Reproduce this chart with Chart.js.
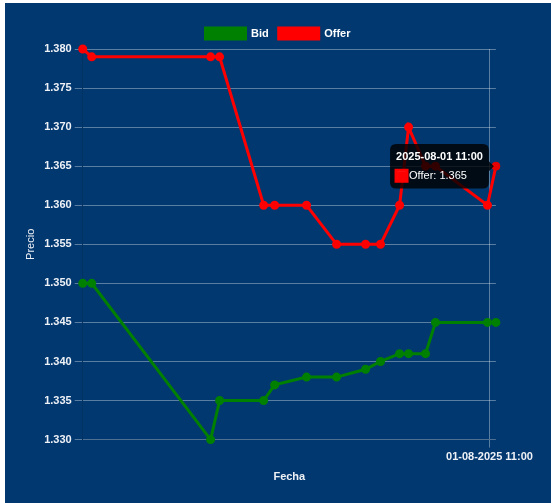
<!DOCTYPE html>
<html>
<head>
<meta charset="utf-8">
<script src="https://cdn.jsdelivr.net/npm/chart.js@4.4.0/dist/chart.umd.min.js"></script>
<style>
  body { margin: 0; background: #fff; }
  .panel {
    position: absolute; left: 5px; top: 3px;
    width: 516px; height: 470px; padding: 15px;
    background: #023870;
  }
  .panel .wrap { position: relative; width: 516px; height: 470px; }
</style>
</head>
<body>
<div class="panel"><div class="wrap"><canvas id="precios"></canvas></div></div>
<script>
// Quotes for 2025-08-01 (times HH:MM:SS)
const horas = ['10:02:00','10:03:17','10:20:14','10:21:31','10:27:48','10:29:22','10:33:55','10:38:12',
               '10:42:20','10:44:28','10:47:11','10:48:28','10:50:53','10:52:18','10:59:43','11:00:55'];
const bid   = [1.350, 1.350, 1.330, 1.335, 1.335, 1.337, 1.338, 1.338,
               1.339, 1.340, 1.341, 1.341, 1.341, 1.345, 1.345, 1.345];
const offer = [1.380, 1.379, 1.379, 1.379, 1.360, 1.360, 1.360, 1.355,
               1.355, 1.355, 1.360, 1.370, 1.365, 1.365, 1.360, 1.365];
const tickHoras = ['11:00'];
const fecha = [2025, 8, 1];

function toMs(h) {
    const p = h.split(':').map(Number);
    return Date.UTC(fecha[0], fecha[1] - 1, fecha[2], p[0], p[1], p[2] || 0);
}
function pad(n) { return String(n).padStart(2, '0'); }
function fmtTick(ms) {
    const d = new Date(ms);
    return pad(d.getUTCDate()) + '-' + pad(d.getUTCMonth() + 1) + '-' + d.getUTCFullYear() + ' ' +
           pad(d.getUTCHours()) + ':' + pad(d.getUTCMinutes());
}
function fmtTitle(ms) {
    const d = new Date(ms);
    return d.getUTCFullYear() + '-' + pad(d.getUTCMonth() + 1) + '-' + pad(d.getUTCDate()) + ' ' +
           pad(d.getUTCHours()) + ':' + pad(d.getUTCMinutes());
}

const xs = horas.map(toMs);
const gridColor = 'rgba(255,255,255,0.35)';
const textColor = '#eef1f6';
const bold = { weight: 'bold' };

Chart.defaults.font.size = 11;

const ctx = document.getElementById('precios').getContext('2d');
const chart = new Chart(ctx, {
    type: 'line',
    data: {
        datasets: [
            { label: 'Bid', data: xs.map((x, i) => ({ x: x, y: bid[i] })),
              borderColor: 'green', backgroundColor: 'green', borderWidth: 3,
              pointRadius: 3, tension: 0, clip: false },
            { label: 'Offer', data: xs.map((x, i) => ({ x: x, y: offer[i] })),
              borderColor: 'red', backgroundColor: 'red', borderWidth: 3,
              pointRadius: 3, tension: 0, clip: false }
        ]
    },
    options: {
        responsive: true,
        maintainAspectRatio: false,
        animation: false,
        plugins: {
            legend: {
                labels: { color: '#fff', font: bold }
            },
            tooltip: {
                callbacks: { title: items => fmtTitle(items[0].parsed.x) }
            }
        },
        scales: {
            x: {
                type: 'linear',
                min: xs[0],
                max: xs[xs.length - 1],
                afterBuildTicks: axis => { axis.ticks = tickHoras.map(h => ({ value: toMs(h) })); },
                ticks: { color: textColor, font: bold, callback: v => fmtTick(v), maxRotation: 0 },
                grid: { color: gridColor },
                title: { display: true, text: 'Fecha', color: textColor, font: bold }
            },
            y: {
                min: 1.330,
                max: 1.380,
                ticks: { stepSize: 0.005, color: textColor, font: bold, callback: v => v.toFixed(3) },
                grid: { color: gridColor },
                title: { display: true, text: 'Precio', color: textColor }
            }
        }
    }
});

// show the tooltip on the last Offer quote
const activo = [{ datasetIndex: 1, index: offer.length - 1 }];
const el = chart.getDatasetMeta(1).data[offer.length - 1];
chart.setActiveElements(activo);
chart.tooltip.setActiveElements(activo, { x: el.x, y: el.y });
chart.update();
</script>
</body>
</html>
